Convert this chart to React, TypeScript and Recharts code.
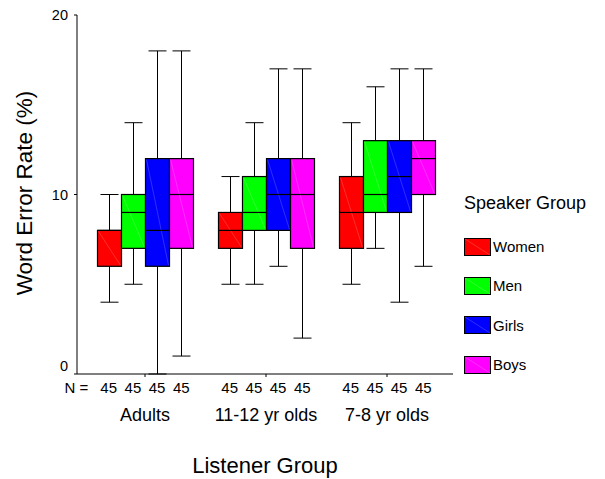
import { Bar, ComposedChart, Label, Legend, XAxis, YAxis } from "recharts";

const FONT = '"Liberation Sans", Arial, sans-serif';

const groups = ["Adults", "11-12 yr olds", "7-8 yr olds"];
const speakers = ["Women", "Men", "Girls", "Boys"];
const speakerColors = ["#ff0000", "#00ff00", "#0000ff", "#ff00ff"];

// [min, q1, median, q3, max] for each listener group
const women = [
  [4, 6, 8, 8, 10],
  [5, 7, 8, 9, 11],
  [5, 7, 9, 11, 14],
];
const men = [
  [5, 7, 9, 10, 14],
  [5, 8, 9, 11, 14],
  [7, 9, 10, 13, 16],
];
const girls = [
  [0, 6, 8, 12, 18],
  [6, 8, 10, 12, 17],
  [4, 9, 11, 13, 17],
];
const boys = [
  [1, 7, 10, 12, 18],
  [2, 7, 10, 12, 17],
  [6, 10, 12, 13, 17],
];
const counts = [
  [45, 45, 45, 45],
  [45, 45, 45, 45],
  [45, 45, 45, 45],
];
const yTicks = [0, 10, 20];

const statsBySpeaker = [women, men, girls, boys];

const data = groups.map((group, i) => {
  const row: Record<string, any> = { group };
  speakers.forEach((s, j) => {
    row[s] = statsBySpeaker[j][i];
  });
  return row;
});

function BoxShape(props: any) {
  const { x, y, width, height, stats, color } = props;
  const [lo, q1, med, q3, hi] = stats;
  const ppu = height / (q3 - q1);
  const yv = (v: number) => y + (q3 - v) * ppu;
  const cx = x + width / 2;
  const cap = 9;
  return (
    <g>
      <line x1={cx} x2={cx} y1={yv(hi)} y2={y} stroke="#000" />
      <line x1={cx} x2={cx} y1={y + height} y2={yv(lo)} stroke="#000" />
      <line x1={cx - cap} x2={cx + cap} y1={yv(hi)} y2={yv(hi)} stroke="#000" />
      <line x1={cx - cap} x2={cx + cap} y1={yv(lo)} y2={yv(lo)} stroke="#000" />
      <rect x={x} y={y} width={width} height={height} fill={color} stroke="#000" strokeWidth={1.2} />
      <line x1={x + 1} y1={y + 1} x2={x + width - 1} y2={y + height - 1} stroke="rgba(255,255,255,0.18)" />
      <line x1={x} x2={x + width} y1={yv(med)} y2={yv(med)} stroke="#000" strokeWidth={1.2} />
    </g>
  );
}

function YTick({ x, y, payload }: any) {
  return (
    <text
      x={x}
      y={payload.value === 0 ? y - 8 : y}
      dy="0.35em"
      textAnchor="end"
      fontSize={14.5}
      fontFamily={FONT}
      fill="#000"
    >
      {payload.value}
    </text>
  );
}

function XTick({ x, y, payload, index }: any) {
  return (
    <g fontFamily={FONT} fill="#000">
      {index === 0 && (
        <text x={x - 80.5} y={y + 11} dy="0.35em" fontSize={15} textAnchor="start">
          N =
        </text>
      )}
      {counts[index].map((n, j) => (
        <text key={j} x={x + (j - 1.5) * 24.2} y={y + 11} dy="0.35em" fontSize={15} textAnchor="middle">
          {n}
        </text>
      ))}
      <text x={x} y={y + 38} dy="0.35em" fontSize={18} textAnchor="middle">
        {payload.value}
      </text>
    </g>
  );
}

function LegendContent({ payload }: any) {
  const items = [...(payload || [])].sort(
    (a: any, b: any) => speakers.indexOf(a.value) - speakers.indexOf(b.value)
  );
  return (
    <div style={{ fontFamily: FONT, color: "#000", width: 140 }}>
      <div style={{ fontSize: 18, lineHeight: "26px", whiteSpace: "nowrap" }}>Speaker Group</div>
      {items.map((p: any, i: number) => {
        const color = speakerColors[speakers.indexOf(p.value)];
        return (
          <div
            key={p.value}
            style={{ display: "flex", alignItems: "center", height: 20, marginTop: i === 0 ? 20.7 : 19.3 }}
          >
            <svg width={27} height={18} style={{ display: "block" }}>
              <rect x={0.5} y={0.5} width={26} height={17} fill={color} stroke="#000" />
              <line x1={1} y1={1} x2={26} y2={17} stroke="rgba(255,255,255,0.18)" />
            </svg>
            <span style={{ marginLeft: 2, fontSize: 15 }}>{p.value}</span>
          </div>
        );
      })}
    </div>
  );
}

export default function App() {
  return (
    <div style={{ position: "absolute", left: 0, top: 0 }}>
      <ComposedChart
        width={605}
        height={479}
        data={data}
        margin={{ top: 15, right: 152, left: 0, bottom: 0 }}
        barGap={0}
        barSize={24}
      >
        <XAxis
          dataKey="group"
          height={105}
          padding={{ left: 7.5, right: 5.5 }}
          axisLine={{ stroke: "#000" }}
          tickLine={{ stroke: "#000" }}
          tickSize={3}
          tickMargin={0}
          tick={<XTick />}
          interval={0}
        >
          <Label
            content={({ viewBox }: any) => (
              <text
                x={viewBox.x + viewBox.width / 2}
                y={viewBox.y + 91}
                dy="0.35em"
                textAnchor="middle"
                fontSize={22}
                fontFamily={FONT}
                fill="#000"
              >
                Listener Group
              </text>
            )}
          />
        </XAxis>
        <XAxis
          xAxisId="top"
          dataKey="group"
          orientation="top"
          height={0}
          tick={false}
          tickLine={false}
          axisLine={{ stroke: "#000" }}
        />
        <YAxis
          width={77}
          domain={[0, 20]}
          ticks={yTicks}
          axisLine={{ stroke: "#000" }}
          tickLine={{ stroke: "#000" }}
          tickSize={3}
          tickMargin={6}
          tick={<YTick />}
        >
          <Label
            content={({ viewBox }: any) => {
              const cx = viewBox.x + 24;
              const cy = viewBox.y + viewBox.height / 2 - 1.5;
              return (
                <text
                  x={cx}
                  y={cy}
                  dy="0.35em"
                  textAnchor="middle"
                  fontSize={22.5}
                  fontFamily={FONT}
                  fill="#000"
                  transform={`rotate(-90 ${cx} ${cy})`}
                >
                  Word Error Rate (%)
                </text>
              );
            }}
          />
        </YAxis>
        <YAxis
          yAxisId="right"
          orientation="right"
          width={0}
          domain={[0, 20]}
          tick={false}
          tickLine={false}
          axisLine={{ stroke: "#000" }}
        />
        <Legend
          layout="vertical"
          align="center"
          verticalAlign="middle"
          wrapperStyle={{ left: 464, top: 190, width: 140 }}
          content={<LegendContent />}
        />
        {speakers.map((s, j) => (
          <Bar
            key={s}
            name={s}
            dataKey={(d: any) => [d[s][1], d[s][3]]}
            fill={speakerColors[j]}
            isAnimationActive={false}
            shape={(p: any) => <BoxShape {...p} stats={p.payload[s]} color={speakerColors[j]} />}
          />
        ))}
      </ComposedChart>
    </div>
  );
}
